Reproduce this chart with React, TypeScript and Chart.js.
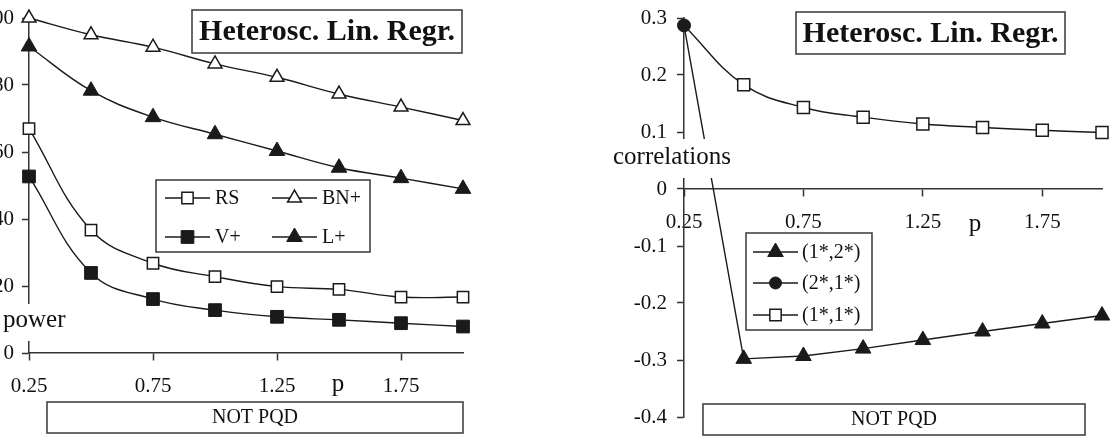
import React, { useEffect, useRef } from 'react';
import { Chart, registerables } from 'chart.js';
import { drawPoint } from 'chart.js/helpers';

Chart.register(...registerables);

// ---------- data ----------
const pValues = [0.25, 0.5, 0.75, 1.0, 1.25, 1.5, 1.75, 2.0];
const xTickValues = [0.25, 0.75, 1.25, 1.75];
const xTickLabels = ['0.25', '0.75', '1.25', '1.75'];

const powerRS = [67, 36.7, 26.8, 22.8, 19.8, 19.0, 16.7, 16.7];
const powerBN = [100, 95, 91.3, 86.3, 82.3, 77.3, 73.4, 69.4];
const powerV = [52.7, 23.9, 16.1, 12.8, 10.8, 9.9, 8.9, 7.9];
const powerL = [91.5, 78.3, 70.4, 65.3, 60.3, 55.3, 52.2, 49.0];
const powerTickValues = [0, 20, 40, 60, 80, 100];
const powerTickLabels = ['0', '20', '40', '60', '80', '100'];

const corr12 = [0.287, -0.298, -0.293, -0.28, -0.265, -0.25, -0.236, -0.222];
const corr21 = [0.287];
const corr11 = [0.287, 0.183, 0.143, 0.126, 0.114, 0.108, 0.103, 0.099];
const corrTickValues = [-0.4, -0.3, -0.2, -0.1, 0, 0.1, 0.2, 0.3];
const corrTickLabels = ['-0.4', '-0.3', '-0.2', '-0.1', '0', '0.1', '0.2', '0.3'];

const leftLegendLabels = ['RS', 'BN+', 'V+', 'L+'];
const rightLegendLabels = ['(1*,2*)', '(2*,1*)', '(1*,1*)'];
const titleText = 'Heterosc. Lin. Regr.';
const bandText = 'NOT PQD';
const leftYTitle = 'power';
const rightYTitle = 'correlations';
const xTitle = 'p';

// ---------- styling ----------
const FONT = "'Liberation Serif', 'Times New Roman', serif";
const INK = '#1a1a1a';
const AXIS = '#333';

const toPoints = (ys: number[]) => ys.map((y, i) => ({ x: pValues[i], y }));

function series(label: string, ys: number[], shape: string, filled: boolean, radius: number, tension: number, extra: any = {}) {
  return {
    label,
    data: toPoints(ys),
    borderColor: INK,
    borderWidth: 1.4,
    pointStyle: shape,
    pointRadius: radius,
    legendRadius: radius,
    pointBackgroundColor: filled ? INK : '#fff',
    pointBorderColor: INK,
    pointBorderWidth: filled ? 1 : 1.5,
    tension,
    clip: false,
    fill: false,
    ...extra,
  };
}

function drawBox(ctx: CanvasRenderingContext2D, x: number, y: number, w: number, h: number) {
  ctx.save();
  ctx.fillStyle = '#fff';
  ctx.fillRect(x, y, w, h);
  ctx.strokeStyle = '#444';
  ctx.lineWidth = 1.6;
  ctx.strokeRect(x, y, w, h);
  ctx.restore();
}

function clearRect(ctx: CanvasRenderingContext2D, x: number, y: number, w: number, h: number) {
  ctx.save();
  ctx.fillStyle = '#fff';
  ctx.fillRect(x, y, w, h);
  ctx.restore();
}

function drawText(ctx: CanvasRenderingContext2D, text: string, x: number, y: number, font: string, align: CanvasTextAlign = 'center', baseline: CanvasTextBaseline = 'middle') {
  ctx.save();
  ctx.fillStyle = '#111';
  ctx.font = font;
  ctx.textAlign = align;
  ctx.textBaseline = baseline;
  ctx.fillText(text, x, y);
  ctx.restore();
}

function drawLegendEntry(ctx: CanvasRenderingContext2D, ds: any, label: string, x1: number, x2: number, cy: number, textX: number) {
  ctx.save();
  ctx.strokeStyle = ds.borderColor;
  ctx.lineWidth = 1.4;
  ctx.beginPath();
  ctx.moveTo(x1, cy);
  ctx.lineTo(x2, cy);
  ctx.stroke();
  ctx.fillStyle = ds.pointBackgroundColor;
  ctx.strokeStyle = ds.pointBorderColor;
  ctx.lineWidth = ds.pointBorderWidth;
  drawPoint(ctx, { pointStyle: ds.pointStyle, radius: ds.legendRadius, rotation: 0, borderWidth: ds.pointBorderWidth } as any, (x1 + x2) / 2, cy);
  ctx.restore();
  drawText(ctx, label, textX, cy + 1, `20px ${FONT}`, 'left', 'middle');
}

function zeroPadding(s: any) {
  s.paddingLeft = 0;
  s.paddingRight = 0;
  s.paddingTop = 0;
  s.paddingBottom = 0;
}

function axisCommon(tickValues: number[], tickLabels: string[], padding: number, extra: any) {
  return {
    type: 'linear',
    afterBuildTicks: (s: any) => {
      s.ticks = tickValues.map((v) => ({ value: v }));
    },
    ticks: {
      callback: (_v: any, i: number) => tickLabels[i],
      font: { family: FONT, size: 21 },
      color: '#111',
      padding,
      autoSkip: false,
      maxRotation: 0,
      minRotation: 0,
    },
    grid: {
      display: true,
      drawOnChartArea: false,
      drawTicks: true,
      tickLength: 7,
      tickWidth: 1.5,
      tickColor: AXIS,
    },
    border: { display: true, color: AXIS, width: 1.5 },
    ...extra,
  };
}

export default function App() {
  const leftRef = useRef<HTMLCanvasElement>(null);
  const rightRef = useRef<HTMLCanvasElement>(null);

  useEffect(() => {
    const leftChart = new Chart(leftRef.current as HTMLCanvasElement, {
      type: 'line',
      data: {
        datasets: [
          series(leftLegendLabels[0], powerRS, 'rect', false, 8, 0.4),
          series(leftLegendLabels[1], powerBN, 'triangle', false, 8, 0.4),
          series(leftLegendLabels[2], powerV, 'rect', true, 9, 0.4),
          series(leftLegendLabels[3], powerL, 'triangle', true, 9, 0.4),
        ] as any,
      },
      options: {
        responsive: false,
        animation: false,
        devicePixelRatio: 1,
        events: [],
        layout: { padding: { left: 0, top: 18, right: 97, bottom: 91 } },
        plugins: { legend: { display: false }, tooltip: { enabled: false }, title: { display: false } },
        scales: {
          x: axisCommon(xTickValues, xTickLabels, 14, {
            min: 0.25,
            max: 2.0,
            position: { y: 0 },
            afterFit: (s: any) => { s.height = 0; zeroPadding(s); },
          }),
          y: axisCommon(powerTickValues, powerTickLabels, 8, {
            min: 0,
            max: 100,
            afterFit: (s: any) => { s.width = 29; zeroPadding(s); },
          }),
        } as any,
      },
      plugins: [
        {
          id: 'leftOverlay',
          afterDraw(chart: any) {
            const ctx = chart.ctx as CanvasRenderingContext2D;
            const ds = chart.data.datasets;
            // title box
            drawBox(ctx, 192, 10, 270, 43);
            drawText(ctx, titleText, 327, 32, `bold 30px ${FONT}`);
            // legend
            drawBox(ctx, 156, 180, 214, 72);
            drawLegendEntry(ctx, ds[0], leftLegendLabels[0], 165, 210, 198, 215);
            drawLegendEntry(ctx, ds[1], leftLegendLabels[1], 272, 317, 198, 322);
            drawLegendEntry(ctx, ds[2], leftLegendLabels[2], 165, 210, 237, 215);
            drawLegendEntry(ctx, ds[3], leftLegendLabels[3], 272, 317, 237, 322);
            // band
            drawBox(ctx, 47, 402, 416, 31);
            drawText(ctx, bandText, 255, 418, `20px ${FONT}`);
            // axis titles (with white backing over the axis line)
            clearRect(ctx, 0, 304, 68, 37);
            drawText(ctx, leftYTitle, 3, 320, `25px ${FONT}`, 'left', 'middle');
            drawText(ctx, xTitle, 338, 391, `25px ${FONT}`, 'center', 'alphabetic');
          },
        },
      ],
    } as any);

    const rightChart = new Chart(rightRef.current as HTMLCanvasElement, {
      type: 'line',
      data: {
        datasets: [
          series(rightLegendLabels[0], corr12, 'triangle', true, 9, 0, {
            order: 1,
            pointRadius: (c: any) => (c.dataIndex === 0 ? 0 : 9),
            legendRadius: 9,
          }),
          series(rightLegendLabels[1], corr21, 'circle', true, 6.5, 0, { order: 0, legendRadius: 6 }),
          series(rightLegendLabels[2], corr11, 'rect', false, 8.5, 0.4, {
            order: 2,
            pointRadius: (c: any) => (c.dataIndex === 0 ? 0 : 8.5),
            legendRadius: 8,
          }),
        ] as any,
      },
      options: {
        responsive: false,
        animation: false,
        devicePixelRatio: 1,
        events: [],
        layout: { padding: { left: 0, top: 18, right: 16, bottom: 27 } },
        plugins: { legend: { display: false }, tooltip: { enabled: false }, title: { display: false } },
        scales: {
          x: axisCommon(xTickValues, xTickLabels, 14, {
            min: 0.25,
            max: 2.0,
            position: { y: 0 },
            afterFit: (s: any) => { s.height = 0; zeroPadding(s); },
          }),
          y: axisCommon(corrTickValues, corrTickLabels, 10, {
            min: -0.4,
            max: 0.3,
            afterFit: (s: any) => { s.width = 124; zeroPadding(s); },
          }),
        } as any,
      },
      plugins: [
        {
          id: 'rightOverlay',
          afterDraw(chart: any) {
            const ctx = chart.ctx as CanvasRenderingContext2D;
            const ds = chart.data.datasets;
            drawBox(ctx, 236, 12, 269, 42);
            drawText(ctx, titleText, 370.5, 34, `bold 30px ${FONT}`);
            drawBox(ctx, 186, 233, 126, 97);
            drawLegendEntry(ctx, ds[0], rightLegendLabels[0], 193, 238, 252, 242);
            drawLegendEntry(ctx, ds[1], rightLegendLabels[1], 193, 238, 283, 242);
            drawLegendEntry(ctx, ds[2], rightLegendLabels[2], 193, 238, 315, 242);
            drawBox(ctx, 143, 404, 382, 31);
            drawText(ctx, bandText, 334, 420, `20px ${FONT}`);
            clearRect(ctx, 50, 139, 124, 39);
            drawText(ctx, rightYTitle, 112, 157, `25px ${FONT}`, 'center', 'middle');
            drawText(ctx, xTitle, 415, 231, `25px ${FONT}`, 'center', 'alphabetic');
          },
        },
      ],
    } as any);

    return () => {
      leftChart.destroy();
      rightChart.destroy();
    };
  }, []);

  return (
    <div style={{ position: 'absolute', left: 0, top: 0, width: 1118, height: 444, background: '#fff', overflow: 'hidden' }}>
      <canvas ref={leftRef} width={560} height={444} style={{ position: 'absolute', left: 0, top: 0 }} />
      <canvas ref={rightRef} width={558} height={444} style={{ position: 'absolute', left: 560, top: 0 }} />
    </div>
  );
}
